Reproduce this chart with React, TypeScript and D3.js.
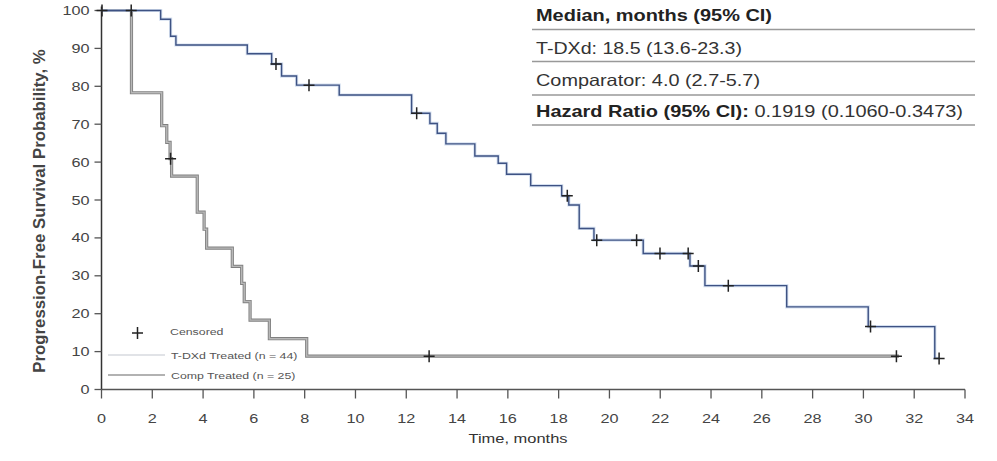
import React, { useEffect, useRef } from 'react';
import * as d3 from 'd3';

// T-DXd arm: event times (months) and survival (%) right after each drop
const tdxdTimes = [2.33, 2.72, 2.93, 5.74, 6.70, 7.09, 7.68, 9.36, 12.21, 12.93, 13.22, 13.56, 14.70, 15.62, 15.95, 16.90, 18.12, 18.40, 18.81, 19.39, 21.33, 23.17, 23.76, 26.98, 30.19, 32.81];
const tdxdSurv = [97.7, 93.2, 90.9, 88.6, 85.9, 82.7, 80.3, 77.7, 72.9, 70.2, 67.6, 64.8, 61.6, 59.7, 56.8, 53.8, 51.1, 48.7, 42.5, 39.4, 35.9, 32.6, 27.4, 21.8, 16.6, 8.2];
const tdxdCensored = [0.02, 6.87, 8.17, 12.41, 18.34, 19.5, 21.07, 21.99, 23.1, 23.5, 24.68, 30.28, 32.98];
const tdxdLast = 32.98;

// Comparator arm
const compTimes = [1.18, 2.37, 2.57, 2.70, 2.76, 3.77, 4.04, 4.14, 5.15, 5.52, 5.62, 5.85, 6.61, 8.08];
const compSurv = [78.3, 69.6, 65.2, 60.9, 56.3, 46.8, 42.3, 37.3, 32.5, 28.0, 23.2, 18.3, 13.4, 8.8];
const compCensored = [1.17, 2.72, 12.9, 31.3];
const compLast = 31.4;

const xTicks = d3.range(0, 35, 2);
const yTicks = d3.range(0, 101, 10);

const tableRows = [
  { bold: 'Median, months (95% CI)', rest: '', width: 236 },
  { bold: '', rest: 'T-DXd:  18.5 (13.6-23.3)', width: 206 },
  { bold: '', rest: 'Comparator:  4.0 (2.7-5.7)', width: 224 },
  { bold: 'Hazard Ratio (95% CI):', rest: ' 0.1919  (0.1060-0.3473)', width: 427 },
];

const legendItems = [
  { label: 'T-DXd Treated (n = 44)', color: '#c4c8cf' },
  { label: 'Comp Treated (n = 25)', color: '#666' },
];

type Pt = [number, number];

function stepPoints(times: number[], surv: number[], last: number): Pt[] {
  const pts: Pt[] = [[0, 100]];
  times.forEach((t, i) => pts.push([t, surv[i]]));
  pts.push([last, surv[surv.length - 1]]);
  return pts;
}

function survAt(times: number[], surv: number[], t: number): number {
  let s = 100;
  times.forEach((tt, i) => { if (tt <= t) s = surv[i]; });
  return s;
}

export default function App() {
  const ref = useRef<SVGSVGElement>(null);

  useEffect(() => {
    if (!ref.current) return;
    const svg = d3.select(ref.current);
    svg.selectAll('*').remove();

    const font = 'Arial, "Liberation Sans", sans-serif';
    const x = d3.scaleLinear().domain([0, 34]).range([101.5, 965]);
    const y = d3.scaleLinear().domain([0, 100]).range([389.5, 10.5]);

    // the source image is stretched sideways, so text is too
    const txt = (tx: number, ty: number, s: string, size: number, anchor = 'start', sx = 1.3, fill = '#444') =>
      svg.append('text').attr('transform', `translate(${tx},${ty}) scale(${sx},1)`)
        .attr('text-anchor', anchor).attr('font-family', font).attr('font-size', size)
        .attr('fill', fill).text(s);

    // axes
    const axisColor = '#555';
    svg.append('line').attr('x1', x(0)).attr('x2', x(34)).attr('y1', y(0)).attr('y2', y(0))
      .attr('stroke', axisColor).attr('stroke-width', 1.5);
    svg.append('line').attr('x1', x(0)).attr('x2', x(0)).attr('y1', y(0)).attr('y2', y(100) - 4)
      .attr('stroke', '#333').attr('stroke-width', 1.5);

    xTicks.forEach(t => {
      svg.append('line').attr('x1', x(t)).attr('x2', x(t)).attr('y1', y(0)).attr('y2', y(0) + 9)
        .attr('stroke', axisColor).attr('stroke-width', 1.3);
      txt(x(t), 423, String(t), 12.5, 'middle');
    });
    yTicks.forEach(v => {
      svg.append('line').attr('x1', x(0) - 7).attr('x2', x(0)).attr('y1', y(v)).attr('y2', y(v))
        .attr('stroke', axisColor).attr('stroke-width', 1.3);
      txt(x(0) - 12, y(v) + 4.5, String(v), 12.5, 'end');
    });

    svg.append('text').attr('transform', `translate(45,211) rotate(-90)`)
      .attr('text-anchor', 'middle').attr('font-family', font).attr('font-size', 16.8)
      .attr('font-weight', 'bold').attr('fill', '#444')
      .text('Progression-Free Survival Probability, %');
    txt(518, 443, 'Time, months', 13.5, 'middle', 1.22, '#333');

    // curves
    const line = d3.line<Pt>().x(d => x(d[0])).y(d => y(d[1])).curve(d3.curveStepAfter);
    const compPts = stepPoints(compTimes, compSurv, compLast);
    svg.append('path').datum(compPts).attr('d', line).attr('fill', 'none')
      .attr('stroke', '#808080').attr('stroke-width', 3.2);
    svg.append('path').datum(compPts).attr('d', line).attr('fill', 'none')
      .attr('stroke', '#b8b8b8').attr('stroke-width', 1.4);

    const tdxdPts = stepPoints(tdxdTimes, tdxdSurv, tdxdLast);
    svg.append('path').datum(tdxdPts).attr('d', line).attr('fill', 'none')
      .attr('stroke', '#c3d3ea').attr('stroke-width', 3.2).attr('opacity', 0.7);
    svg.append('path').datum(tdxdPts).attr('d', line).attr('fill', 'none')
      .attr('stroke', '#3e5283').attr('stroke-width', 1.4);

    const cross = (cx: number, cy: number) => {
      svg.append('path').attr('d', `M${cx - 5.5},${cy}H${cx + 5.5}M${cx},${cy - 6}V${cy + 6}`)
        .attr('stroke', '#222').attr('stroke-width', 1.5).attr('fill', 'none');
    };
    compCensored.forEach(t => cross(x(t), y(survAt(compTimes, compSurv, t))));
    tdxdCensored.forEach(t => cross(x(t), y(survAt(tdxdTimes, tdxdSurv, t))));

    // legend
    cross(137.5, 333);
    txt(170, 335, 'Censored', 9.5, 'start', 1.3, '#555');
    legendItems.forEach((it, i) => {
      const ly = 355 + i * 20;
      svg.append('line').attr('x1', 108).attr('x2', 165).attr('y1', ly).attr('y2', ly)
        .attr('stroke', it.color).attr('stroke-width', 1.2);
      txt(171, ly + 3.5, it.label, 9.5, 'start', 1.3, '#555');
    });

    // summary table
    const rowBase = [21, 54, 86, 117];
    const rules = [29.5, 61.5, 95, 125];
    tableRows.forEach((r, i) => {
      const t = svg.append('text').attr('x', 536).attr('y', rowBase[i]).attr('font-family', font)
        .attr('font-size', 16.5).attr('fill', '#222')
        .attr('textLength', r.width).attr('lengthAdjust', 'spacingAndGlyphs');
      if (r.bold) t.append('tspan').attr('font-weight', 'bold').text(r.bold);
      if (r.rest) t.append('tspan').attr('fill', '#333').text(r.rest);
      svg.append('line').attr('x1', 532).attr('x2', 975).attr('y1', rules[i]).attr('y2', rules[i])
        .attr('stroke', '#999').attr('stroke-width', 1.3);
    });
  }, []);

  return (
    <div style={{ position: 'absolute', left: 0, top: 0, background: '#fff' }}>
      <svg ref={ref} width={997} height={461} />
    </div>
  );
}
